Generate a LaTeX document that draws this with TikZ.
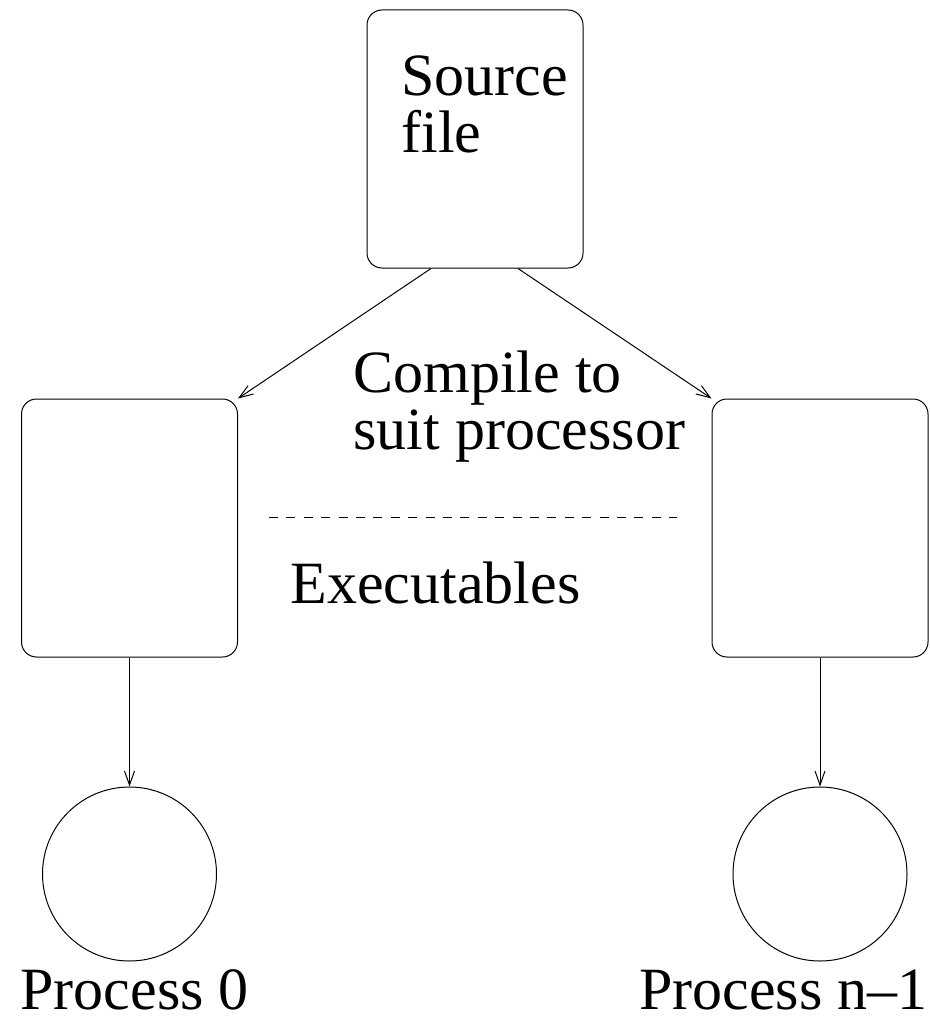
\documentclass[tikz,border=0pt]{standalone}
\usepackage{fontspec}
\setmainfont{Liberation Serif}
\usetikzlibrary{arrows.meta}

\tikzset{
  box/.style={draw, rounded corners=7.5pt, minimum width=108pt,
    minimum height=129pt, inner sep=0pt},
  proc/.style={draw, circle, minimum size=87pt, inner sep=0pt},
  lbl/.style={font=\fontsize{30}{28.5}\selectfont, inner sep=0pt},
  flow/.style={-{Straight Barb[length=7pt,width=5pt]}},
}

\begin{document}
\begin{tikzpicture}[x=0.5pt, y=-0.5pt, line width=0.5pt]
      \useasboundingbox (0,0) rectangle (930,1016);
      \draw
        (475,139) node[box] (src){}
        (129.5,528) node[box] (exe0){}
        (820,528) node[box] (exe1){}
        (129.5,874) node[proc] (p0){}
        (820,874) node[proc] (p1){};
      % base of a two-line label is its last line
      \node[lbl, align=left, anchor=base west] (srclbl) at (401,153) {Source\\file};
      \node[lbl, align=left, anchor=base west] (cmplbl) at (353,449) {Compile to\\suit processor};
      \node[lbl, anchor=base west] (exelbl) at (290,603) {Executables};
      \node[lbl, anchor=base west] (p0lbl) at (20,1009) {Process 0};
      \node[lbl, anchor=base east] (p1lbl) at (928,1009) {Process n--1};
      % separator under the compile note
      \draw[dash pattern=on 4.5pt off 4.2pt] (269,517) -- (677,517);
      \begin{scope}[flow]
        \draw ([xshift=-22pt]src.south) to (exe0.north east);
        \draw ([xshift=21.5pt]src.south) to (exe1.north west);
        \draw (exe0) to (p0);
        \draw (exe1) to (p1);
      \end{scope}
    \end{tikzpicture}
\end{document}
